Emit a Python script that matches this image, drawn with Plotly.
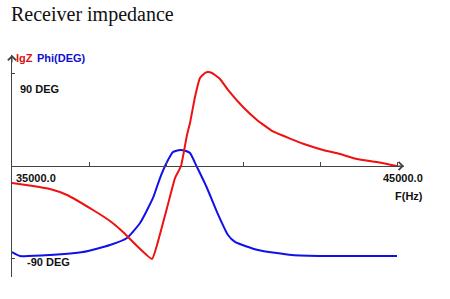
import plotly.graph_objects as go

# Frequency (Hz) samples for each curve
freq_phi = [35000, 35208, 35987, 36844, 37545, 37987, 38325, 38662, 38844, 39026,
            39182, 39364, 39519, 39623, 39805, 40065, 40325, 40610, 40792, 41390,
            42273, 43130, 45000]
# Phase (degrees)
phi_deg = [-83.7, -87.5, -86.6, -83.7, -76.9, -70.1, -55.5, -31.1, -11.7, 3.9,
           13.6, 15.6, 14.6, 12.6, -1.0, -21.4, -44.8, -67.1, -73.9, -81.7,
           -86.6, -87.6, -87.6]

freq_z = [35000, 35545, 35987, 36429, 37104, 37545, 37883, 38247, 38636, 38766,
          39026, 39234, 39390, 39545, 39623, 39753, 39883, 40013, 40091, 40195,
          40403, 40610, 41000, 41364, 41779, 42221, 42662, 43078, 43519, 43961,
          44481, 45000]
# lgZ (relative display units, no scale shown on the original)
lgz_rel = [-16.5, -19.5, -22.4, -28.2, -42.8, -53.5, -64.2, -77.8, -90.5, -76.9,
           -40.9, -11.7, 0.0, 30.2, 41.8, 67.1, 85.6, 90.5, 91.5, 90.5,
           84.7, 74.0, 57.4, 44.8, 33.6, 26.7, 20.4, 15.6, 11.7, 6.8,
           3.9, 0.0]

x_ticks = [35000, 37000, 39000, 41000, 43000, 45000]
y_ticks = [-90, 90]

W, H = 450, 299
X_MIN, X_MAX = 35000, 45181.8
Y_MIN, Y_MAX = -108, 108
AX = "#444444"


def px(x):
    return x / W


def py(y):
    return 1 - y / H


fig = go.Figure()
fig.add_trace(go.Scatter(x=freq_z, y=lgz_rel, mode="lines", yaxis="y2",
                         line=dict(color="#f01010", width=2, shape="spline", smoothing=0.4),
                         showlegend=False, hoverinfo="skip"))
fig.add_trace(go.Scatter(x=freq_phi, y=phi_deg, mode="lines",
                         line=dict(color="#1010e8", width=2, shape="spline", smoothing=0.5),
                         showlegend=False, hoverinfo="skip"))

ann = []
# axis arrows
ann.append(dict(x=X_MAX, y=0, xref="x", yref="y", ax=-9, ay=0, showarrow=True,
                arrowhead=4, arrowsize=1.6, arrowwidth=1, arrowcolor=AX, text=""))
ann.append(dict(x=X_MIN, y=Y_MAX, xref="x", yref="y", ax=0, ay=9, showarrow=True,
                arrowhead=4, arrowsize=1.6, arrowwidth=1, arrowcolor=AX, text=""))

lab = dict(family="Liberation Sans, Arial, sans-serif", size=11, color="#111111")


def text(t, x, y, font, anchor="left"):
    ann.append(dict(text=t, x=px(x), y=py(y), xref="paper", yref="paper",
                    xanchor=anchor, yanchor="middle", showarrow=False, font=font))


text("Receiver impedance", 9, 15,
     dict(family="Liberation Serif, Times New Roman, serif", size=20, color="#111111"))
text("<b>lgZ</b>", 14, 58, dict(family="Liberation Sans, Arial, sans-serif", size=11, color="#e01010"))
text("<b>Phi(DEG)</b>", 35, 58, dict(family="Liberation Sans, Arial, sans-serif", size=11, color="#1010d0"))
text("<b>90 DEG</b>", 18, 89, lab)
text("<b>-90 DEG</b>", 25, 262, lab)
text("<b>35000.0</b>", 14, 178, lab)
text("<b>45000.0</b>", 381, 178, lab)
text("<b>F(Hz)</b>", 393, 196, lab)

fig.update_layout(
    width=W, height=H, margin=dict(l=0, r=0, t=0, b=0),
    paper_bgcolor="white", plot_bgcolor="white",
    xaxis=dict(domain=[px(12), px(404)], range=[X_MIN, X_MAX], anchor="free",
               position=py(166), showline=True, linecolor=AX, linewidth=1,
               ticks="inside", ticklen=4, tickcolor=AX, tickvals=x_ticks,
               showticklabels=False, showgrid=False, zeroline=False),
    yaxis=dict(domain=[py(277), py(55)], range=[Y_MIN, Y_MAX], anchor="x",
               showline=True, linecolor=AX, linewidth=1, ticks="inside", ticklen=3,
               tickcolor=AX, tickvals=y_ticks, showticklabels=False,
               showgrid=False, zeroline=False),
    yaxis2=dict(domain=[py(277), py(55)], range=[Y_MIN, Y_MAX], overlaying="y",
                anchor="x", showline=False, showticklabels=False, showgrid=False,
                zeroline=False, ticks=""),
    annotations=ann,
)

fig.write_html("out.html")
